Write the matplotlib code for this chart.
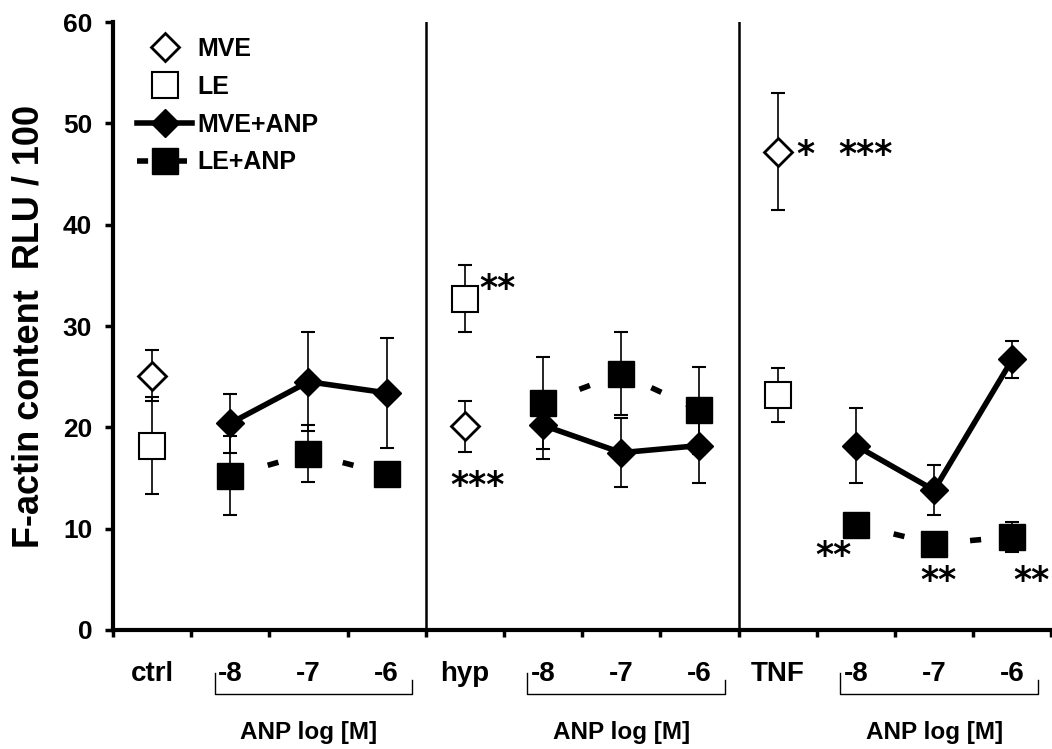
import matplotlib
matplotlib.use("Agg")
import matplotlib.pyplot as plt

plt.rcParams['font.family'] = ['Liberation Sans', 'DejaVu Sans']
plt.rcParams['font.weight'] = 'bold'

# x categories (12 slots, 3 groups of 4)
tick_labels = ["ctrl", "-8", "-7", "-6", "hyp", "-8", "-7", "-6", "TNF", "-8", "-7", "-6"]
x_pos = [i + 0.5 for i in range(len(tick_labels))]

# control points (ctrl, hyp, TNF)
ctrl_x = [0.5, 4.5, 8.5]
mve = [25.1, 20.1, 47.2]
mve_err = [2.5, 2.5, 5.75]
le = [18.2, 32.7, 23.2]
le_err = [4.8, 3.3, 2.65]

# ANP dose series, one list per group
anp_x = [[1.5, 2.5, 3.5], [5.5, 6.5, 7.5], [9.5, 10.5, 11.5]]
mve_anp = [[20.4, 24.5, 23.4], [20.2, 17.5, 18.2], [18.2, 13.8, 26.7]]
mve_anp_err = [[2.9, 4.9, 5.4], [3.3, 3.4, 3.7], [3.7, 2.5, 1.8]]
le_anp = [[15.2, 17.4, 15.4], [22.4, 25.3, 21.7], [10.4, 8.5, 9.2]]
le_anp_err = [[3.9, 2.8, 1.0], [4.5, 4.1, 4.3], [0.8, 0.5, 1.5]]

# significance marks: (x, y, text)
stars = [(4.92, 34.5, "**"), (4.66, 15.0, "***"), (8.86, 47.7, "*"),
         (9.62, 47.7, "***"), (9.21, 8.1, "**"), (10.56, 5.6, "**"), (11.74, 5.6, "**")]

fig = plt.figure(figsize=(10.52, 7.49), dpi=100)
ax = fig.add_axes([0.1074, 0.1589, 0.892, 0.8117])

eb_kw = dict(fmt='none', ecolor='black', elinewidth=1.2, capsize=5, capthick=1.5, zorder=2)
ms_d = 14
ms_s = 19

# error bars
ax.errorbar(ctrl_x, mve, yerr=mve_err, **eb_kw)
ax.errorbar(ctrl_x, le, yerr=le_err, **eb_kw)
for gx, m, me, l, le_ in zip(anp_x, mve_anp, mve_anp_err, le_anp, le_anp_err):
    ax.errorbar(gx, m, yerr=me, **eb_kw)
    ax.errorbar(gx, l, yerr=le_, **eb_kw)

# ANP lines and markers
for gx, m, l in zip(anp_x, mve_anp, le_anp):
    h3, = ax.plot(gx, m, color='black', lw=4, marker='D', ms=ms_d, mfc='black', mec='black', zorder=3)
    h4, = ax.plot(gx, l, color='black', lw=4, ls=(0, (2, 5)), marker='s', ms=ms_s,
                  mfc='black', mec='black', zorder=3)

h1, = ax.plot(ctrl_x, mve, ls='none', marker='D', ms=ms_d, mfc='white', mec='black', mew=2, zorder=4)
h2, = ax.plot(ctrl_x, le, ls='none', marker='s', ms=ms_s, mfc='white', mec='black', mew=1.5, zorder=4)

# group separators
for sx in [4, 8]:
    ax.axvline(sx, color='black', lw=1.8, zorder=1)

for sx, sy, s in stars:
    ax.text(sx, sy - 1.8, s, ha='center', va='baseline', fontsize=25,
            fontweight='bold', family='DejaVu Sans')

ax.set_xlim(0, 12)
ax.set_ylim(0, 60)
ax.set_xticks(range(13))
ax.set_xticklabels([])
ax.set_xticks(x_pos, minor=True)
ax.set_xticklabels(tick_labels, minor=True, fontsize=20, fontweight='bold')
ax.tick_params(axis='x', which='major', direction='out', length=5, width=2.5)
ax.tick_params(axis='x', which='minor', length=0, pad=22)
ax.set_yticks(range(0, 61, 10))
ax.tick_params(axis='y', direction='out', length=6, width=2.5, labelsize=19, pad=9)
for lab in ax.get_yticklabels():
    lab.set_fontweight('bold')

for sp in ['top', 'right']:
    ax.spines[sp].set_visible(False)
ax.spines['left'].set_linewidth(3)
ax.spines['bottom'].set_linewidth(3)

ax.set_ylabel("F-actin content  RLU / 100", fontsize=26, fontweight='bold', labelpad=12)

# ANP brackets under each dose group
trans = ax.get_xaxis_transform()
for gx in anp_x:
    x0, x1 = gx[0] - 0.2, gx[-1] + 0.33
    ax.plot([x0, x0, x1, x1], [-0.07, -0.105, -0.105, -0.082], color='black', lw=1,
            transform=trans, clip_on=False)
    ax.text(gx[1], -0.168, "ANP log [M]", transform=trans, ha='center', va='center',
            fontsize=17.5, fontweight='bold')

leg = ax.legend([h1, h2, h3, h4], ["MVE", "LE", "MVE+ANP", "LE+ANP"], loc='upper left',
                bbox_to_anchor=(0.01, 1.0), frameon=False, fontsize=18, handlelength=2.2,
                handletextpad=0.2, labelspacing=0.55, borderaxespad=0.2)
for t in leg.get_texts():
    t.set_fontweight('bold')

fig.savefig("out.png", dpi=100)
